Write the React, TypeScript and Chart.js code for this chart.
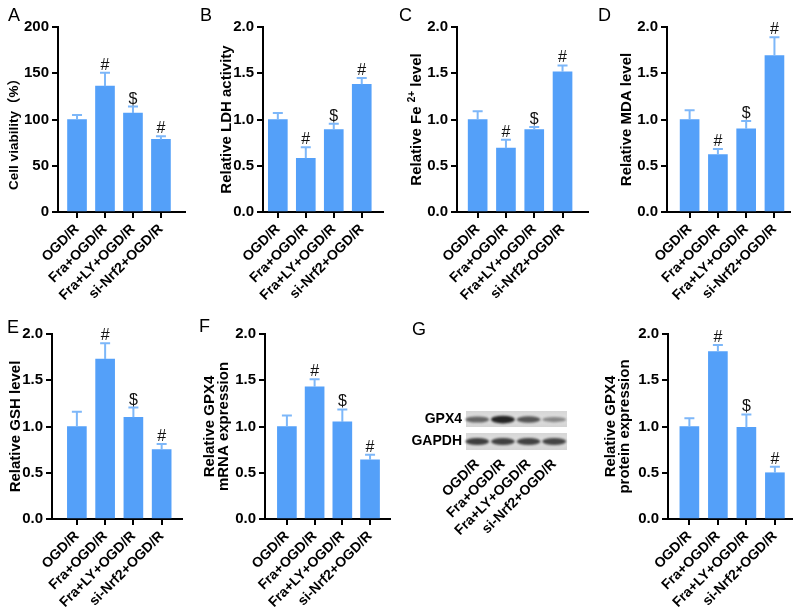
import React, { useEffect, useRef } from 'react';
import { Chart, registerables } from 'chart.js';
Chart.register(...registerables);

const FONT = '"Liberation Sans", Arial, sans-serif';
const CJK = '"Liberation Sans", "Noto Sans CJK SC", sans-serif';
const BAR = '#54A0F9';
const ERR = '#7DB7F9';

// ---- data ----
const categories = ['OGD/R', 'Fra+OGD/R', 'Fra+LY+OGD/R', 'si-Nrf2+OGD/R'];
const marks = ['', '#', '$', '#'];

const viabilityMean = [100, 136, 107, 78.5];
const viabilitySd = [5, 14.5, 7, 3.5];
const ldhMean = [1.0, 0.58, 0.89, 1.38];
const ldhSd = [0.07, 0.12, 0.065, 0.07];
const feMean = [1.0, 0.69, 0.89, 1.515];
const feSd = [0.09, 0.09, 0.03, 0.07];
const mdaMean = [1.0, 0.62, 0.9, 1.69];
const mdaSd = [0.1, 0.06, 0.085, 0.2];
const gshMean = [1.0, 1.73, 1.1, 0.75];
const gshSd = [0.16, 0.17, 0.105, 0.06];
const gpx4mRnaMean = [1.0, 1.43, 1.05, 0.64];
const gpx4mRnaSd = [0.12, 0.08, 0.135, 0.055];
const gpx4ProtMean = [1.0, 1.81, 0.99, 0.5];
const gpx4ProtSd = [0.09, 0.07, 0.14, 0.065];

const ticksPercent = [0, 50, 100, 150, 200];
const ticksRelative = [0, 0.5, 1.0, 1.5, 2.0];

// western blot band intensities (0..1)
const blotRows = ['GPX4', 'GAPDH'];
const gpx4Band = [0.62, 0.95, 0.7, 0.45];
const gapdhBand = [0.82, 0.8, 0.8, 0.78];

type Part = [string, string, number];
type BarPanel = {
  key: string;
  left: number; top: number; width: number; height: number;
  axisX: number; plotTop: number; plotBottom: number; padRight: number;
  xMin: number; xMax: number;
  yTicks: number[]; dec: number;
  title: string | string[]; titlePad: number; titleLH?: number;
  titleParts?: Part[]; titleCY?: number;
  means: number[]; sds: number[];
  letter: string; letterX: number; letterY: number;
};

const B15 = `bold 15px ${FONT}`;

const panels: BarPanel[] = [
  { key: 'A', left: 0, top: 0, width: 195, height: 300, axisX: 58, plotTop: 27, plotBottom: 212, padRight: 10,
    xMin: 0.32, xMax: 4.86, yTicks: ticksPercent, dec: 0, title: 'Cell viability（%）', titlePad: 5,
    titleParts: [['Cell viability', `bold 13.5px ${FONT}`, 0], ['（%）', `bold 13.5px ${CJK}`, 0]], titleCY: 131,
    means: viabilityMean, sds: viabilitySd, letter: 'A', letterX: 8, letterY: 21 },
  { key: 'B', left: 195, top: 0, width: 200, height: 300, axisX: 68, plotTop: 27, plotBottom: 212, padRight: 12,
    xMin: 0.47, xMax: 4.76, yTicks: ticksRelative, dec: 1, title: 'Relative LDH activity', titlePad: 23,
    means: ldhMean, sds: ldhSd, letter: 'B', letterX: 5, letterY: 21 },
  { key: 'C', left: 395, top: 0, width: 200, height: 300, axisX: 62, plotTop: 27, plotBottom: 212, padRight: 7,
    xMin: 0.27, xMax: 4.9, yTicks: ticksRelative, dec: 1, title: 'Relative Fe 2+ level', titlePad: 13,
    titleParts: [['Relative Fe ', B15, 0], ['2+', `bold 10px ${FONT}`, -5], [' level', B15, 0]],
    means: feMean, sds: feSd, letter: 'C', letterX: 4, letterY: 21 },
  { key: 'D', left: 595, top: 0, width: 205, height: 300, axisX: 72, plotTop: 27, plotBottom: 212, padRight: 10,
    xMin: 0.2, xMax: 4.55, yTicks: ticksRelative, dec: 1, title: 'Relative MDA level', titlePad: 23,
    means: mdaMean, sds: mdaSd, letter: 'D', letterX: 3, letterY: 21 },
  { key: 'E', left: 0, top: 300, width: 195, height: 315, axisX: 52, plotTop: 34, plotBottom: 219, padRight: 13,
    xMin: 0.12, xMax: 4.72, yTicks: ticksRelative, dec: 1, title: 'Relative GSH level', titlePad: 7,
    means: gshMean, sds: gshSd, letter: 'E', letterX: 7, letterY: 33 },
  { key: 'F', left: 195, top: 300, width: 200, height: 315, axisX: 70, plotTop: 34, plotBottom: 219, padRight: 5,
    xMin: 0.21, xMax: 4.72, yTicks: ticksRelative, dec: 1, title: ['Relative GPX4', 'mRNA expression'], titlePad: 8, titleLH: 0.93,
    means: gpx4mRnaMean, sds: gpx4mRnaSd, letter: 'F', letterX: 4, letterY: 32 },
  { key: 'H', left: 595, top: 300, width: 205, height: 315, axisX: 73, plotTop: 34, plotBottom: 219, padRight: 8,
    xMin: 0.25, xMax: 4.6, yTicks: ticksRelative, dec: 1, title: ['Relative GPX4', 'protein expression'], titlePad: 9, titleLH: 0.93,
    means: gpx4ProtMean, sds: gpx4ProtSd, letter: '', letterX: 0, letterY: 0 },
];

function makeBarPlugin(p: BarPanel) {
  return {
    id: 'errMarks' + p.key,
    afterDatasetsDraw(chart: any) {
      const { ctx, scales } = chart;
      const x = scales.x, y = scales.y;
      ctx.save();
      p.means.forEach((m, i) => {
        const px = x.getPixelForValue(i + 1);
        const yTop = y.getPixelForValue(m);
        const yErr = y.getPixelForValue(m + p.sds[i]);
        ctx.strokeStyle = ERR;
        ctx.lineWidth = 2;
        ctx.beginPath();
        ctx.moveTo(px, yTop);
        ctx.lineTo(px, yErr);
        ctx.moveTo(px - 5, yErr);
        ctx.lineTo(px + 5, yErr);
        ctx.stroke();
        if (marks[i]) {
          ctx.fillStyle = '#111';
          ctx.font = `16px ${FONT}`;
          ctx.textAlign = 'center';
          ctx.textBaseline = 'alphabetic';
          ctx.fillText(marks[i], px, yErr - 3);
        }
      });
      if (p.letter) {
        ctx.fillStyle = '#000';
        ctx.font = `18px ${FONT}`;
        ctx.textAlign = 'left';
        ctx.textBaseline = 'alphabetic';
        ctx.fillText(p.letter, p.letterX, p.letterY);
      }
      if (p.titleParts) {
        const ca = chart.chartArea;
        const cx = y.left + 9 + p.titlePad;
        const cy = p.titleCY ?? (ca.top + ca.bottom) / 2;
        ctx.translate(cx, cy);
        ctx.rotate(-Math.PI / 2);
        let total = 0;
        p.titleParts.forEach(([t, f]) => { ctx.font = f; total += ctx.measureText(t).width; });
        let x0 = -total / 2;
        ctx.fillStyle = '#000';
        ctx.textAlign = 'left';
        ctx.textBaseline = 'middle';
        p.titleParts.forEach(([t, f, dy]) => {
          ctx.font = f;
          ctx.fillText(t, x0, dy);
          x0 += ctx.measureText(t).width;
        });
      }
      ctx.restore();
    },
  };
}

function barConfig(p: BarPanel): any {
  return {
    type: 'bar',
    data: {
      datasets: [{
        data: p.means.map((v, i) => ({ x: i + 1, y: v })),
        backgroundColor: BAR,
        borderWidth: 0,
        barThickness: 19,
      }],
    },
    options: {
      responsive: false,
      animation: false,
      layout: { padding: { top: p.plotTop, right: p.padRight, left: 0, bottom: 0 } },
      plugins: { legend: { display: false }, tooltip: { enabled: false } },
      scales: {
        x: {
          type: 'linear',
          min: p.xMin,
          max: p.xMax,
          offset: false,
          afterBuildTicks: (s: any) => { s.ticks = categories.map((_, i) => ({ value: i + 1 })); },
          afterFit: (s: any) => { s.height = p.height - p.plotBottom; },
          grid: { offset: false, drawOnChartArea: false, drawTicks: true, tickLength: 6, color: '#000', lineWidth: 2 },
          border: { display: true, color: '#000', width: 2 },
          ticks: {
            autoSkip: false, maxRotation: 45, minRotation: 45, padding: 3, color: '#000',
            font: { family: FONT, size: 14, weight: 'bold' },
            callback: (v: number) => categories[Math.round(v) - 1] ?? '',
          },
        },
        y: {
          type: 'linear',
          min: p.yTicks[0],
          max: p.yTicks[p.yTicks.length - 1],
          afterBuildTicks: (s: any) => { s.ticks = p.yTicks.map((v) => ({ value: v })); },
          afterFit: (s: any) => { s.width = p.axisX; },
          grid: { drawOnChartArea: false, drawTicks: true, tickLength: 6, color: '#000', lineWidth: 2 },
          border: { display: true, color: '#000', width: 2 },
          ticks: {
            color: '#000', padding: 3,
            font: { family: FONT, size: 15, weight: 'bold' },
            callback: (v: number) => v.toFixed(p.dec),
          },
          title: {
            display: !p.titleParts,
            text: p.title,
            color: '#000',
            font: { family: FONT, size: 15, weight: 'bold', lineHeight: p.titleLH ?? 1.2 },
            padding: { top: p.titlePad, bottom: 0 },
          },
        },
      },
    },
    plugins: [makeBarPlugin(p)],
  };
}

// Western blot panel (G)
const blot = { left: 395, top: 300, width: 200, height: 315, plotLeft: 71, plotTop: 111, plotBottom: 150, padRight: 28 };

const blotPlugin = {
  id: 'blot',
  afterDatasetsDraw(chart: any) {
    const { ctx, chartArea: ca, scales } = chart;
    const x = scales.x;
    const rows = [
      { label: blotRows[0], top: 111, bottom: 127, band: 119.5, vals: gpx4Band },
      { label: blotRows[1], top: 133, bottom: 150, band: 141.5, vals: gapdhBand },
    ];
    ctx.save();
    rows.forEach((r) => {
      const g = ctx.createLinearGradient(0, r.top, 0, r.bottom);
      g.addColorStop(0, '#d6d6d6');
      g.addColorStop(0.5, '#e0e0e0');
      g.addColorStop(1, '#d4d4d4');
      ctx.fillStyle = g;
      ctx.fillRect(ca.left, r.top, ca.right - ca.left, r.bottom - r.top);
      r.vals.forEach((v, i) => {
        const px = x.getPixelForValue(i + 1);
        ctx.save();
        ctx.filter = 'blur(1px)';
        ctx.fillStyle = `rgba(25,25,25,${v})`;
        ctx.beginPath();
        const h = 1.5 + v * 2.5;
        ctx.ellipse(px, r.band, 12, h, 0, 0, Math.PI * 2);
        ctx.fill();
        ctx.restore();
      });
      ctx.fillStyle = '#000';
      ctx.font = `bold 14px ${FONT}`;
      ctx.textAlign = 'right';
      ctx.textBaseline = 'middle';
      ctx.fillText(r.label, 67, r.band);
    });
    ctx.fillStyle = '#000';
    ctx.font = `18px ${FONT}`;
    ctx.textAlign = 'left';
    ctx.textBaseline = 'alphabetic';
    ctx.fillText('G', 17, 35);
    ctx.restore();
  },
};

function blotConfig(): any {
  return {
    type: 'scatter',
    data: { datasets: [{ data: [] }] },
    options: {
      responsive: false,
      animation: false,
      layout: { padding: { top: blot.plotTop, right: blot.padRight, left: blot.plotLeft, bottom: 0 } },
      plugins: { legend: { display: false }, tooltip: { enabled: false } },
      scales: {
        x: {
          type: 'linear', min: 0.56, max: 4.5, offset: false,
          afterBuildTicks: (s: any) => { s.ticks = categories.map((_, i) => ({ value: i + 1 })); },
          afterFit: (s: any) => { s.height = blot.height - blot.plotBottom; },
          grid: { display: false, drawTicks: false, drawOnChartArea: false },
          border: { display: false },
          ticks: {
            autoSkip: false, maxRotation: 45, minRotation: 45, padding: 6, color: '#000',
            font: { family: FONT, size: 14, weight: 'bold' },
            callback: (v: number) => categories[Math.round(v) - 1] ?? '',
          },
        },
        y: { display: false, min: 0, max: 1 },
      },
    },
    plugins: [blotPlugin],
  };
}

function ChartCanvas({ left, top, width, height, make }: { left: number; top: number; width: number; height: number; make: () => any }) {
  const ref = useRef<HTMLCanvasElement>(null);
  useEffect(() => {
    const chart = new Chart(ref.current as HTMLCanvasElement, make());
    return () => chart.destroy();
  }, []);
  return (
    <canvas
      ref={ref}
      width={width}
      height={height}
      style={{ position: 'absolute', left, top, width, height }}
    />
  );
}

export default function App() {
  return (
    <div style={{ position: 'absolute', left: 0, top: 0, width: 800, height: 615, background: '#fff', overflow: 'hidden' }}>
      {panels.map((p) => (
        <ChartCanvas key={p.key} left={p.left} top={p.top} width={p.width} height={p.height} make={() => barConfig(p)} />
      ))}
      <ChartCanvas left={blot.left} top={blot.top} width={blot.width} height={blot.height} make={blotConfig} />
    </div>
  );
}
